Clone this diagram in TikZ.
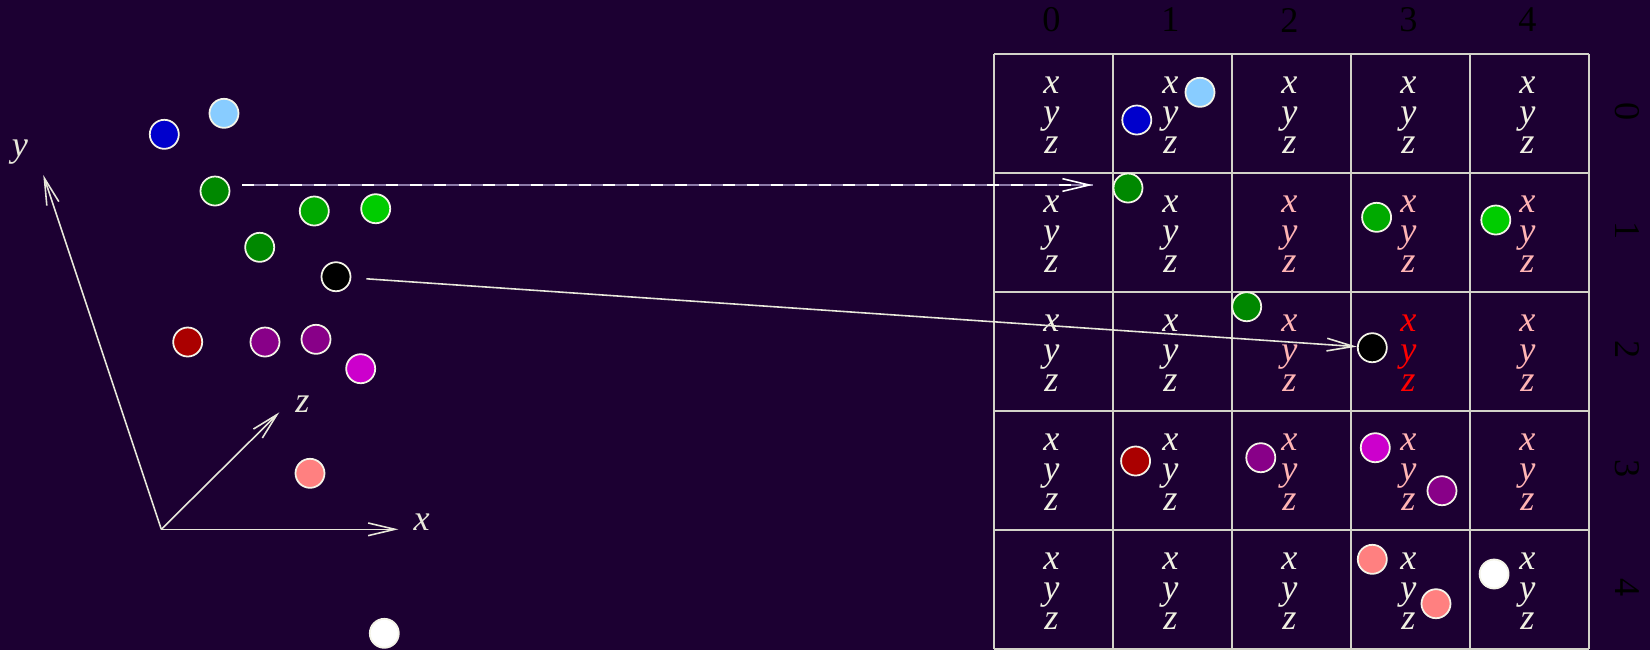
\documentclass[tikz,border=0pt]{standalone}
\usepackage{fontspec}
\setmainfont{Liberation Serif}
\usetikzlibrary{arrows.meta}
\definecolor{bg}{HTML}{1C0032}
\definecolor{txt}{HTML}{F0F0E2}
\definecolor{txtpink}{HTML}{FFB4B4}
\definecolor{linecol}{HTML}{E8E8DA}
\definecolor{gridcol}{HTML}{D2D2C8}
\definecolor{ringcol}{HTML}{F4F4E8}
\definecolor{lav}{HTML}{8C7AA8}
\definecolor{cblue}{HTML}{0000CC}
\definecolor{clblue}{HTML}{88CCFF}
\definecolor{cdgreen}{HTML}{008800}
\definecolor{cmgreen}{HTML}{00AA00}
\definecolor{cbgreen}{HTML}{00CC00}
\definecolor{cred}{HTML}{AA0000}
\definecolor{cpurple}{HTML}{880088}
\definecolor{cmag}{HTML}{CC00CC}
\definecolor{csalmon}{HTML}{FF8080}
\begin{document}
\begin{tikzpicture}[x=0.01cm,y=-0.01cm,
  every node/.style={font=\fontsize{10.3}{12}\selectfont},
  ax/.style={draw=linecol, line width=0.45pt, -{Straight Barb[length=7.6pt,width=3.6pt]}},
  ball/.style={circle, draw=ringcol, line width=0.5pt, minimum size=0.29cm, inner sep=0pt},
  lbl/.style={text=linecol, font=\fontsize{10.3}{12}\selectfont\itshape, inner sep=0pt},
  celltxt/.style={font=\fontsize{10.3}{12}\selectfont\itshape, inner sep=0pt, anchor=base,
                  text height=5pt, text depth=2pt},
  idx/.style={text=black, inner sep=0pt},
  gridline/.style={draw=gridcol, line width=0.5pt}]
\fill[bg] (0,0) rectangle (1650,650);
\useasboundingbox (0,0) rectangle (1650,650);
% grid
\foreach \i in {0,...,5}{
  \draw[gridline] ({994+119*\i},54) -- ({994+119*\i},649);
  \draw[gridline] (994,{54+119*\i}) -- (1589,{54+119*\i});
}
% cell texts
\foreach \r in {0,...,4}{
  \foreach \c in {0,...,4}{
    \pgfmathtruncatemacro\pk{(\r>0)*(\r<4)*(\c>1)}
    \pgfmathtruncatemacro\rd{(\r==2)*(\c==3)}
    \ifnum\rd=1 \def\tc{red}\else\ifnum\pk=1 \def\tc{txtpink}\else\def\tc{txt}\fi\fi
    \node[celltxt,text=\tc] (t\r\c-x) at ({1051.5+119*\c},{54+119*\r+39}) {x};
    \node[celltxt,text=\tc] (t\r\c-y) at ({1051.5+119*\c},{54+119*\r+69}) {y};
    \node[celltxt,text=\tc] (t\r\c-z) at ({1051.5+119*\c},{54+119*\r+99}) {z};
  }
}
% index labels
\foreach \c in {0,...,4}{
  \node[idx] (col\c) at ({1051.5+119*\c},20) {\c};
  \node[idx,rotate=-90] (row\c) at (1627,{111.5+119*\c}) {\c};
}
% axes
\coordinate (O) at (161.3,529.3);
\coordinate (xt) at (398.3,529.3);
\coordinate (zt) at (279.3,412.3);
\coordinate (yt) at (43.3,175);
\draw[ax] (O) -- (xt);
\draw[ax] (O) -- (zt);
\draw[ax] (O) -- (yt);
\node[lbl] (xl) at (421.7,521.7) {x};
\node[lbl] (zl) at (302.3,404) {z};
\node[lbl] (yl) at (20,151.7) {y};
% left balls
\node[ball,fill=cblue]   (Lblue)  at (164.3,134.3) {};
\node[ball,fill=clblue]  (Llblue) at (224,113.3) {};
\node[ball,fill=cdgreen] (Lg1)    at (215,191) {};
\node[ball,fill=cmgreen] (Lg2)    at (314.3,211) {};
\node[ball,fill=cbgreen] (Lg3)    at (375.7,208.7) {};
\node[ball,fill=cdgreen] (Lg4)    at (259.7,247.3) {};
\node[ball,fill=black]   (Lblack) at (336,276.7) {};
\node[ball,fill=cred]    (Lred)   at (187.7,342) {};
\node[ball,fill=cpurple] (Lp1)    at (265,342) {};
\node[ball,fill=cpurple] (Lp2)    at (316,339.3) {};
\node[ball,fill=cmag]    (Lmag)   at (360.7,368.7) {};
\node[ball,fill=csalmon] (Lsal)   at (310,473.3) {};
\node[ball,fill=white]   (Lwhite) at (384.3,633.3) {};
% right balls
\node[ball,fill=clblue]  (Rlblue) at (1200,92.3) {};
\node[ball,fill=cblue]   (Rblue)  at (1136.8,120) {};
\node[ball,fill=cdgreen] (Rg1)    at (1128,188) {};
\node[ball,fill=cmgreen] (Rg2)    at (1376.6,217.3) {};
\node[ball,fill=cbgreen] (Rg3)    at (1495.8,220) {};
\node[ball,fill=cdgreen] (Rg4)    at (1246.7,306.7) {};
\node[ball,fill=black]   (Rblack) at (1372.3,347.7) {};
\node[ball,fill=cred]    (Rred)   at (1135.6,461) {};
\node[ball,fill=cpurple] (Rp1)    at (1260.8,457.7) {};
\node[ball,fill=cmag]    (Rmag)   at (1375.3,447.7) {};
\node[ball,fill=cpurple] (Rp2)    at (1442,490.7) {};
\node[ball,fill=csalmon] (Rsal1)  at (1372.3,559.3) {};
\node[ball,fill=csalmon] (Rsal2)  at (1436,603.7) {};
\node[ball,fill=white]   (Rwhite) at (1494.1,574) {};
% connectors
\draw[draw=lav, line width=0.45pt] ([shift={(12,-6)}]Lg1.east) -- ([shift={(-20,-3)}]Rg1.west);
\draw[ax, draw=white, dash pattern=on 0.12cm off 0.12cm] ([shift={(12,-6)}]Lg1.east) -- ([shift={(-20,-3)}]Rg1.west);
\draw[ax, shorten <=0.15cm] (Lblack) -- (Rblack);
\end{tikzpicture}
\end{document}
